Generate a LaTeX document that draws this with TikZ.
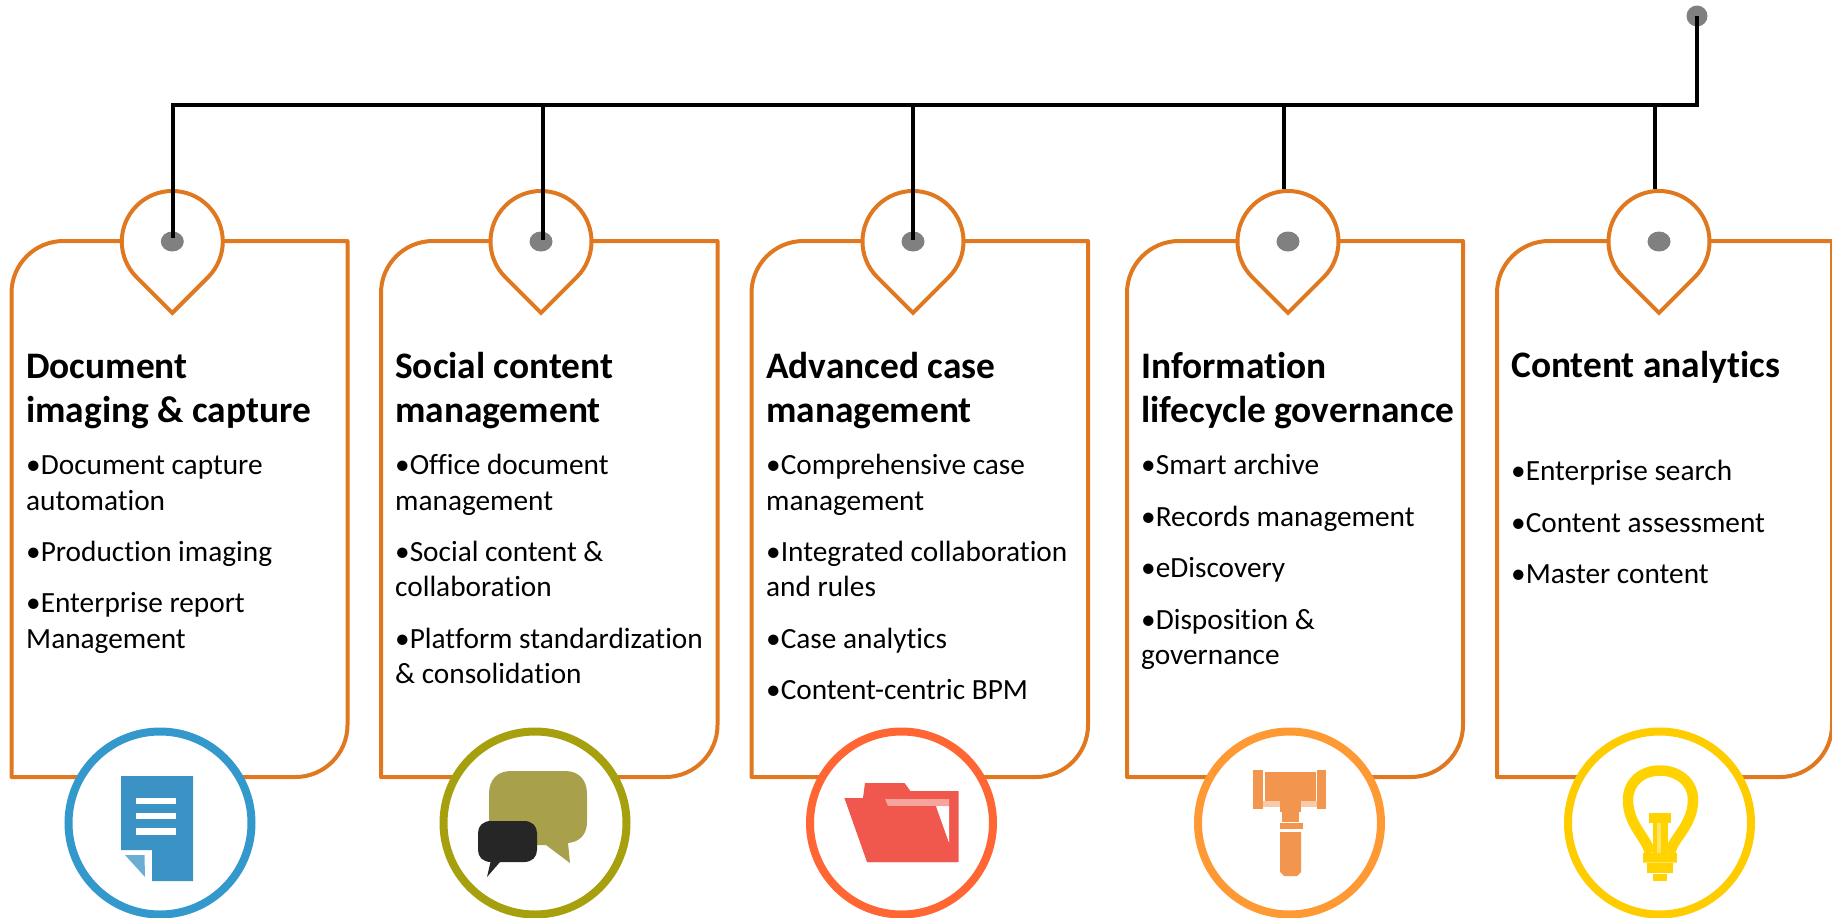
\documentclass[tikz,border=0pt]{standalone}
\usepackage{fontspec}
\setmainfont{Carlito}[Ligatures=CommonOff]
\usetikzlibrary{shapes.geometric}
\definecolor{cardor}{HTML}{E07820}
\definecolor{dotgr}{HTML}{808080}
\definecolor{ringa}{HTML}{3399CC}
\definecolor{ringb}{HTML}{A6A00F}
\definecolor{ringc}{HTML}{FF6633}
\definecolor{ringd}{HTML}{FF9933}
\definecolor{ringe}{HTML}{FFCC00}
\definecolor{icona}{HTML}{3A93C4}
\definecolor{iconb}{HTML}{A8A04A}
\definecolor{iconc}{HTML}{F0584E}
\definecolor{icond}{HTML}{F2954F}
\definecolor{icone}{HTML}{FFD200}
\tikzset{
  x=1pt,y=-1pt,
  card/.style={draw=cardor,line width=4pt,line join=round,fill=white},
  pinshape/.style={draw=cardor,line width=4pt,fill=white,miter limit=4},
  pindot/.style={ellipse,fill=dotgr,inner sep=0pt,minimum width=23pt,minimum height=20pt},
  topdot/.style={circle,fill=dotgr,inner sep=0pt,minimum size=21pt},
  wire/.style={draw=black,line width=4pt,line join=miter},
  ringnode/.style={circle,draw=#1,line width=8pt,fill=white,inner sep=0pt,minimum size=183pt},
  titletext/.style={anchor=base west,align=left,inner sep=0pt,font=\fontsize{37.4}{43.6}\selectfont\bfseries},
  itemtext/.style={anchor=base west,align=left,inner sep=0pt,font=\fontsize{29.3}{35.5}\selectfont},
}
\newcommand{\orgcard}[2]{%
  \draw[card] (#2,241) -- ({#1+52},241) .. controls ({#1+23.3},241) and (#1,264.3) .. (#1,293)
    -- (#1,777) -- ({#2-52},777) .. controls ({#2-23.3},777) and (#2,753.7) .. (#2,725) -- cycle;}
\newcommand{\orgpin}[1]{%
  \draw[pinshape,shift={(#1,241.5)},x=1pt,y=1pt] (0,-71.4) -- (35.7,-35.7)
    arc[start angle=-45,end angle=225,radius=50.5pt] -- cycle;}
\begin{document}
\begin{tikzpicture}
\useasboundingbox (0,0) rectangle (1832,918);
% cards
\orgcard{11.5}{347.5}
\orgcard{381}{717.5}
\orgcard{751.5}{1088}
\orgcard{1127}{1463}
\orgcard{1497}{1832}
% pins
\orgpin{172.3}
\orgpin{541}
\orgpin{913}
\orgpin{1288}
\orgpin{1659}
\node[pindot] (dota) at (172.3,241.5) {};
\node[pindot] (dotb) at (541,241.5) {};
\node[pindot] (dotc) at (913,241.5) {};
\node[pindot] (dotd) at (1288,241.5) {};
\node[pindot] (dote) at (1659,241.5) {};
\node[topdot] (top) at (1697,16) {};
% connectors
\coordinate (busr) at (1697,104.5);
\coordinate (busa) at (173,104.5);
\coordinate (busb) at (543,104.5);
\coordinate (busc) at (913,104.5);
\coordinate (busd) at (1283.5,104.5);
\coordinate (buse) at (1654.5,104.5);
\coordinate (enda) at (173,238);
\coordinate (endb) at (543,240);
\coordinate (endc) at (913,240);
\coordinate (endd) at (1283.5,189);
\coordinate (ende) at (1654.5,189);
\draw[wire] (top.center) -- (busr) -- (busa) -- (enda);
\draw[wire] (busb) -- (endb);
\draw[wire] (busc) -- (endc);
\draw[wire] (busd) -- (endd);
\draw[wire] (buse) -- (ende);
% rings
\node[ringnode=ringa] (ringa) at (160,823) {};
\node[ringnode=ringb] (ringb) at (535,823) {};
\node[ringnode=ringc] (ringc) at (901.5,823) {};
\node[ringnode=ringd] (ringd) at (1289.5,823) {};
\node[ringnode=ringe] (ringe) at (1659.5,823) {};
% document icon
\fill[icona] (121,776) -- (193,776) -- (193,881) -- (152,881) -- (152,850) -- (121,850) -- cycle;
\fill[icona!75!white] (125,855) -- (144.5,855) -- (145,877) -- cycle;
\fill[white] (136,798) rectangle (176,804);
\fill[white] (136,813) rectangle (176,819);
\fill[white] (136,828) rectangle (176,835);
% bubbles icon
\fill[iconb] (511,771) -- (565,771) .. controls (579,771) and (587,780) .. (587,794) -- (587,822)
  .. controls (587,834) and (580,842) .. (568,843) -- (570,863) -- (546,845) -- (511,845)
  .. controls (497,845) and (489,836) .. (489,822) -- (489,794) .. controls (489,780) and (497,771) .. (511,771) -- cycle;
\fill[black!85] (491,821) -- (524,821) .. controls (532,821) and (537,826) .. (537,833)
  -- (537,850) .. controls (537,857) and (532,862) .. (524,862) -- (500,862) -- (487,877) -- (490.5,862)
  -- (491,862) .. controls (483,862) and (478,857) .. (478,850)
  -- (478,833) .. controls (478,826) and (483,821) .. (491,821) -- cycle;
% folder icon
\fill[iconc] (863,798) -- (865,783) -- (904.5,783) -- (910.4,791) -- (958.7,791) -- (958.7,862) -- (867,862) -- cycle;
\fill[white] (936,806) -- (949,806) -- (949,843) -- cycle;
\fill[iconc!55!white] (885,799) -- (949,799) -- (949,806) -- (888,806) -- cycle;
\fill[iconc] (844.4,798) -- (879,798) -- (886,806) -- (935,806) -- (956,862) -- (867,862) -- cycle;
% gavel icon
\fill[icond] (1253,770) rectangle (1263,809);
\fill[icond] (1317,770) rectangle (1326,809);
\fill[icond!50!white] (1263,801) rectangle (1317,807);
\fill[icond] (1265,772) rectangle (1315.6,801);
\fill[icond] (1280,801) rectangle (1301,812);
\fill[icond] (1282,812) rectangle (1298.6,822);
\fill[icond] (1280,823) rectangle (1303,829);
\fill[icond] (1280,832) -- (1301,832) -- (1301,872) -- (1297,876) -- (1284,876) -- (1280,872) -- cycle;
% bulb icon
\draw[icone,line width=10.5pt] (1650,853) .. controls (1647,838) and (1628,825) .. (1628,800)
  .. controls (1628,782) and (1642,770.5) .. (1660,770.5) .. controls (1678,770.5) and (1693,782) .. (1693,800)
  .. controls (1693,825) and (1673,838) .. (1670,853);
\fill[icone] (1649,813) rectangle (1671,823);
\fill[icone] (1653,823) rectangle (1668,853);
\fill[icone!60!white] (1657,823) rectangle (1661,853);
\fill[icone] (1643,853) rectangle (1677,862);
\fill[icone!60!white] (1643,862) rectangle (1677,863);
\fill[icone] (1647,863) rectangle (1673,873);
\fill[icone] (1653,874) rectangle (1667,881);
% texts
\node[titletext] (ta) at (26,422) {Document\\imaging \& capture};
\node[itemtext] (ia) at (26,510) {•Document capture\\automation};
\node[itemtext] (ib) at (26,561.5) {•Production imaging};
\node[itemtext] (ic) at (26,648) {•Enterprise report\\Management};
\node[titletext] (tb) at (395,422) {Social content\\management};
\node[itemtext] (ba) at (395,510) {•Office document\\management};
\node[itemtext] (bb) at (395,596.5) {•Social content \&\\collaboration};
\node[itemtext] (bc) at (395,683.5) {•Platform standardization\\\& consolidation};
\node[titletext] (tc) at (766,422) {Advanced case\\management};
\node[itemtext] (ca) at (766,510) {•Comprehensive case\\management};
\node[itemtext] (cb) at (766,596.5) {•Integrated collaboration\\and rules};
\node[itemtext] (cc) at (766,648) {•Case analytics};
\node[itemtext] (cd) at (766,699.5) {•Content-centric BPM};
\node[titletext] (td) at (1141,422) {Information\\lifecycle governance};
\node[itemtext] (da) at (1141,474.5) {•Smart archive};
\node[itemtext] (db) at (1141,526.5) {•Records management};
\node[itemtext] (dc) at (1141,577.5) {•eDiscovery};
\node[itemtext] (dd) at (1141,664.5) {•Disposition \&\\governance};
\node[titletext] (te) at (1511,377.5) {Content analytics};
\node[itemtext] (ea) at (1511,480) {•Enterprise search};
\node[itemtext] (eb) at (1511,532.5) {•Content assessment};
\node[itemtext] (ec) at (1511,583.5) {•Master content};
\end{tikzpicture}
\end{document}
